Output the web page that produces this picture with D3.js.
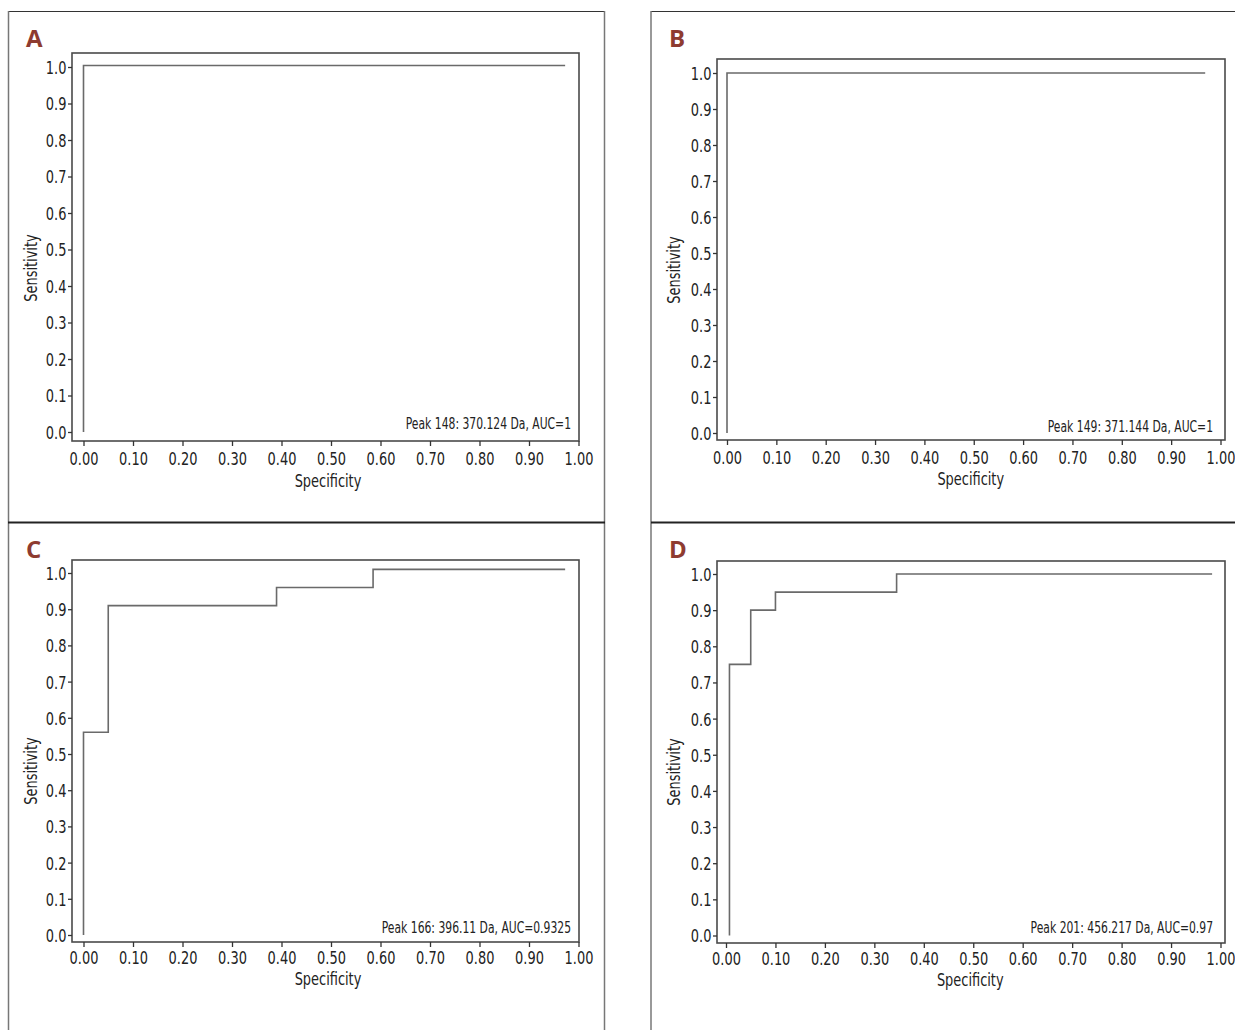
<!DOCTYPE html>
<html>
<head>
<meta charset="utf-8">
<script src="https://cdn.jsdelivr.net/npm/d3@7"></script>
<style>
  html, body { margin: 0; padding: 0; background: #fff; }
  svg { display: block; }
  .tick text { font-family: "Liberation Sans Narrow", "Arial Narrow", "DejaVu Sans Condensed", sans-serif; font-size: 18px; fill: #222; }
  .ttl { font-family: "Liberation Sans Narrow", "Arial Narrow", "DejaVu Sans Condensed", sans-serif; font-size: 18px; fill: #222; }
  .ann { font-family: "Liberation Sans Narrow", "Arial Narrow", "DejaVu Sans Condensed", sans-serif; font-size: 15px; fill: #222; }
  .plab { font-family: "Open Sans", "Liberation Sans", Arial, sans-serif; font-weight: bold; font-size: 24px; fill: #8e3b30; }
</style>
</head>
<body>
<script>
// ---------- data ----------
const panelLabels = ["A", "B", "C", "D"];
const annotations = [
  "Peak 148: 370.124 Da, AUC=1",
  "Peak 149: 371.144 Da, AUC=1",
  "Peak 166: 396.11 Da, AUC=0.9325",
  "Peak 201: 456.217 Da, AUC=0.97"
];
const xTitle = "Specificity";
const yTitle = "Sensitivity";
const xTicks = [0, 0.1, 0.2, 0.3, 0.4, 0.5, 0.6, 0.7, 0.8, 0.9, 1.0];
const yTicks = [0, 0.1, 0.2, 0.3, 0.4, 0.5, 0.6, 0.7, 0.8, 0.9, 1.0];

const specA = [0, 0, 0.973];
const sensA = [0, 1.004, 1.004];
const specB = [0, 0, 0.969];
const sensB = [0, 1.0, 1.0];
const specC = [0, 0, 0.05, 0.05, 0.39, 0.39, 0.585, 0.585, 0.973];
const sensC = [0, 0.56, 0.56, 0.91, 0.91, 0.96, 0.96, 1.01, 1.01];
const specD = [0.007, 0.007, 0.05, 0.05, 0.10, 0.10, 0.345, 0.345, 0.983];
const sensD = [0, 0.75, 0.75, 0.90, 0.90, 0.95, 0.95, 1.0, 1.0];

const specs = [specA, specB, specC, specD];
const senss = [sensA, sensB, sensC, sensD];

// ---------- layout (pixels) ----------
const W = 1235, H = 1030;
const SX = 0.8; // horizontal condensing of the text
const layout = [
  { fl: 72,  ft: 53,  fr: 579,  fb: 441, x0: 83.5, x1: 578.5, y1: 67,  y0: 432,   lab: [26, 47],   annY: 429, xPad: 6, xtY: 482, ytX: 32,  ytY: 268 },
  { fl: 717, ft: 59,  fr: 1225, fb: 440, x0: 727,  x1: 1220.5, y1: 73, y0: 433,   lab: [669, 47],  annY: 432, xPad: 6, xtY: 480, ytX: 675, ytY: 270 },
  { fl: 72,  ft: 560, fr: 579,  fb: 942, x0: 83.5, x1: 578.5, y1: 573, y0: 935,   lab: [26, 558],  annY: 933, xPad: 4, xtY: 980, ytX: 32,  ytY: 771 },
  { fl: 717, ft: 561, fr: 1225, fb: 943, x0: 726,  x1: 1220.5, y1: 574, y0: 935.5, lab: [669, 558], annY: 933, xPad: 4, xtY: 981, ytX: 675, ytY: 772 }
];
const annRight = [571, 1213, 571, 1213];

const svg = d3.select("body").append("svg").attr("width", W).attr("height", H);

// outer boxes
const boxG = svg.append("g");
boxG.append("line").attr("x1", 8).attr("x2", 605).attr("y1", 11.5).attr("y2", 11.5).attr("stroke", "#333").attr("stroke-width", 1.2);
boxG.append("line").attr("x1", 651).attr("x2", W).attr("y1", 11.5).attr("y2", 11.5).attr("stroke", "#333").attr("stroke-width", 1.2);
[8.5, 604.5, 651].forEach(x => {
  boxG.append("line").attr("x1", x).attr("x2", x).attr("y1", 11).attr("y2", H).attr("stroke", "#777").attr("stroke-width", 1.5);
});
boxG.append("line").attr("x1", 8).attr("x2", 605).attr("y1", 522.5).attr("y2", 522.5).attr("stroke", "#222").attr("stroke-width", 2);
boxG.append("line").attr("x1", 651).attr("x2", W).attr("y1", 522.5).attr("y2", 522.5).attr("stroke", "#222").attr("stroke-width", 2);

layout.forEach((L, i) => {
  const g = svg.append("g");
  const x = d3.scaleLinear().domain([0, 1]).range([L.x0, L.x1]);
  const y = d3.scaleLinear().domain([0, 1]).range([L.y0, L.y1]);

  // frame
  g.append("rect").attr("x", L.fl).attr("y", L.ft).attr("width", L.fr - L.fl).attr("height", L.fb - L.ft)
    .attr("fill", "none").attr("stroke", "#4a4a4a").attr("stroke-width", 1.6);

  // y axis
  const ya = g.append("g").attr("transform", `translate(${L.fl},0)`)
    .call(d3.axisLeft(y).tickValues(yTicks).tickSize(4).tickPadding(3).tickFormat(d3.format(".1f")));
  ya.select(".domain").remove();
  ya.selectAll(".tick line").attr("stroke", "#333").attr("stroke-width", 1.3);
  ya.selectAll(".tick text").attr("dy", "0.36em").attr("transform", `scale(${SX},1)`);

  // x axis
  const xa = g.append("g").attr("transform", `translate(0,${L.fb})`)
    .call(d3.axisBottom(x).tickValues(xTicks).tickSize(5).tickPadding(L.xPad).tickFormat(d3.format(".2f")));
  xa.select(".domain").remove();
  xa.selectAll(".tick line").attr("stroke", "#333").attr("stroke-width", 1.3);
  xa.selectAll(".tick text").attr("transform", `scale(${SX},1)`);

  // curve
  const pts = specs[i].map((s, k) => [s, senss[i][k]]);
  g.append("path").datum(pts)
    .attr("d", d3.line().x(d => x(d[0])).y(d => y(d[1])))
    .attr("fill", "none").attr("stroke", "#6a6a6a").attr("stroke-width", 1.6);

  // annotation
  g.append("text").attr("class", "ann")
    .attr("transform", `translate(${annRight[i]},${L.annY}) scale(${SX},1)`)
    .attr("text-anchor", "end").text(annotations[i]);

  // titles
  g.append("text").attr("class", "ttl")
    .attr("transform", `translate(${(L.x0 + L.x1) / 2 - 3},${L.xtY}) scale(${SX},1)`)
    .attr("text-anchor", "middle").attr("dominant-baseline", "middle").text(xTitle);
  g.append("text").attr("class", "ttl")
    .attr("transform", `translate(${L.ytX},${L.ytY}) rotate(-90) scale(${SX},1)`)
    .attr("text-anchor", "middle").attr("dominant-baseline", "middle").text(yTitle);

  // panel label
  g.append("text").attr("class", "plab").attr("x", L.lab[0]).attr("y", L.lab[1]).text(panelLabels[i]);
});
</script>
</body>
</html>
